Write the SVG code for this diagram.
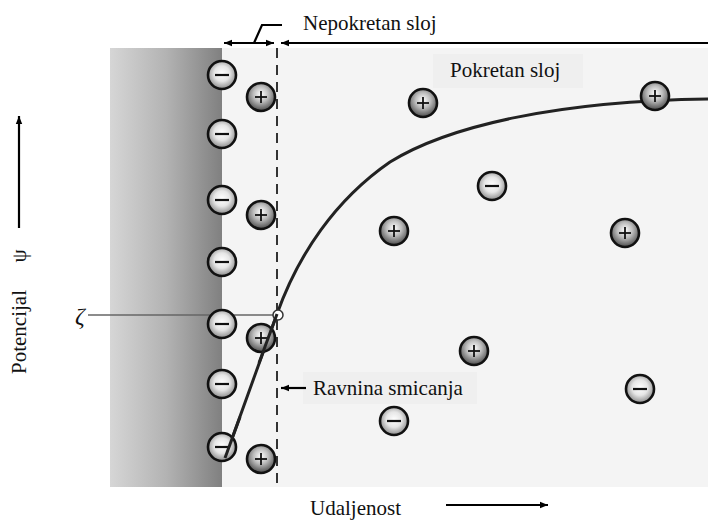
<svg xmlns="http://www.w3.org/2000/svg" width="708" height="520" viewBox="0 0 708 520">
<defs>
<linearGradient id="wall" x1="0" y1="0" x2="1" y2="0">
<stop offset="0" stop-color="#d6d6d6"/>
<stop offset="0.5" stop-color="#b3b3b3"/>
<stop offset="1" stop-color="#808080"/>
</linearGradient>
<radialGradient id="neg" cx="0.5" cy="0.45" r="0.55">
<stop offset="0" stop-color="#ffffff"/>
<stop offset="0.5" stop-color="#e6e6e6"/>
<stop offset="1" stop-color="#8a8a8a"/>
</radialGradient>
<radialGradient id="pos" cx="0.5" cy="0.4" r="0.6">
<stop offset="0" stop-color="#ffffff"/>
<stop offset="0.45" stop-color="#bdbdbd"/>
<stop offset="1" stop-color="#4a4a4a"/>
</radialGradient>
<marker id="ah" viewBox="0 0 10 10" refX="10" refY="5" markerWidth="8" markerHeight="8" orient="auto-start-reverse" markerUnits="userSpaceOnUse">
<path d="M0,1 L10,5 L0,9 Z" fill="#000"/>
</marker>
<g id="minus">
<circle r="14" fill="url(#neg)" stroke="#111" stroke-width="2.6"/>
<line x1="-7" y1="0" x2="7" y2="0" stroke="#111" stroke-width="2.2"/>
</g>
<g id="plus">
<circle r="14" fill="url(#pos)" stroke="#111" stroke-width="2.6"/>
<line x1="-6" y1="0" x2="6" y2="0" stroke="#111" stroke-width="1.8"/>
<line x1="0" y1="-6" x2="0" y2="6" stroke="#111" stroke-width="1.8"/>
</g>
</defs>
<style>
.lbl{font-size:21px}
.ax{stroke:#000;stroke-width:2.2;fill:none}
</style>
<rect width="708" height="520" fill="#fff"/>
<g id="background">
<rect x="222" y="48" width="486" height="439" fill="#f4f4f4"/>
<rect x="110" y="48" width="112" height="439" fill="url(#wall)"/>
<rect x="433" y="54" width="150" height="34" fill="#efefef"/>
<rect x="303" y="372" width="174" height="32" fill="#efefef"/>
</g>
<g id="connectors">
<line x1="277" y1="48" x2="277" y2="487" stroke="#333" stroke-width="2" stroke-dasharray="10,7"/>
<line class="ax" x1="224" y1="43" x2="274" y2="43" marker-start="url(#ah)" marker-end="url(#ah)" stroke-width="1.8"/>
<line class="ax" x1="281" y1="43" x2="708" y2="43" marker-start="url(#ah)" stroke-width="1.8"/>
<polyline class="ax" points="254,43 262,25 282,25" stroke-width="1.6"/>
<line x1="88" y1="315" x2="275" y2="315" stroke="#666" stroke-width="1.6"/>
<path d="M225,458 L277,314 C298,255 335,200 390,162 C450,125 560,101 708,99" fill="none" stroke="#222" stroke-width="3"/>
<line class="ax" x1="306" y1="388" x2="281" y2="388" marker-end="url(#ah)" stroke-width="1.8"/>
<line class="ax" x1="19" y1="228" x2="19" y2="116" marker-end="url(#ah)"/>
<line class="ax" x1="446" y1="505" x2="548" y2="505" marker-end="url(#ah)"/>
</g>
<g id="zeta-point"><circle cx="278" cy="315" r="5" fill="#fff" stroke="#333" stroke-width="1.5"/></g>
<g id="ions">
<use href="#minus" x="222" y="75"/>
<use href="#minus" x="222" y="134"/>
<use href="#minus" x="222" y="200"/>
<use href="#minus" x="222" y="262"/>
<use href="#minus" x="222" y="324"/>
<use href="#minus" x="222" y="384"/>
<use href="#minus" x="222" y="447"/>
<use href="#plus" x="261" y="97"/>
<use href="#plus" x="261" y="215"/>
<use href="#plus" x="261" y="338"/>
<use href="#plus" x="261" y="459"/>
<use href="#plus" x="423" y="103"/>
<use href="#plus" x="655" y="96"/>
<use href="#plus" x="394" y="231"/>
<use href="#plus" x="625" y="233"/>
<use href="#plus" x="474" y="351"/>
<use href="#minus" x="492" y="186"/>
<use href="#minus" x="640" y="389"/>
<use href="#minus" x="394" y="421"/>
</g>
<path d="M225,458 L240,417" fill="none" stroke="#222" stroke-width="3"/>
<path d="M259,363 L277,314" fill="none" stroke="#222" stroke-width="3"/>
<g id="labels" font-family="'Liberation Serif', 'DejaVu Serif', serif" fill="#111">
<text class="lbl" x="303" y="30" font-size="20">Nepokretan sloj</text>
<text class="lbl" x="450" y="77">Pokretan sloj</text>
<text class="lbl" x="313" y="395">Ravnina smicanja</text>
<text class="lbl" x="310" y="515">Udaljenost</text>
<text x="75" y="324" font-size="24" font-style="italic">ζ</text>
<text transform="translate(26,256) rotate(-90)" font-size="21" text-anchor="middle">ψ</text>
<text transform="translate(26,332) rotate(-90)" font-size="21" text-anchor="middle">Potencijal</text>
</g>
</svg>
